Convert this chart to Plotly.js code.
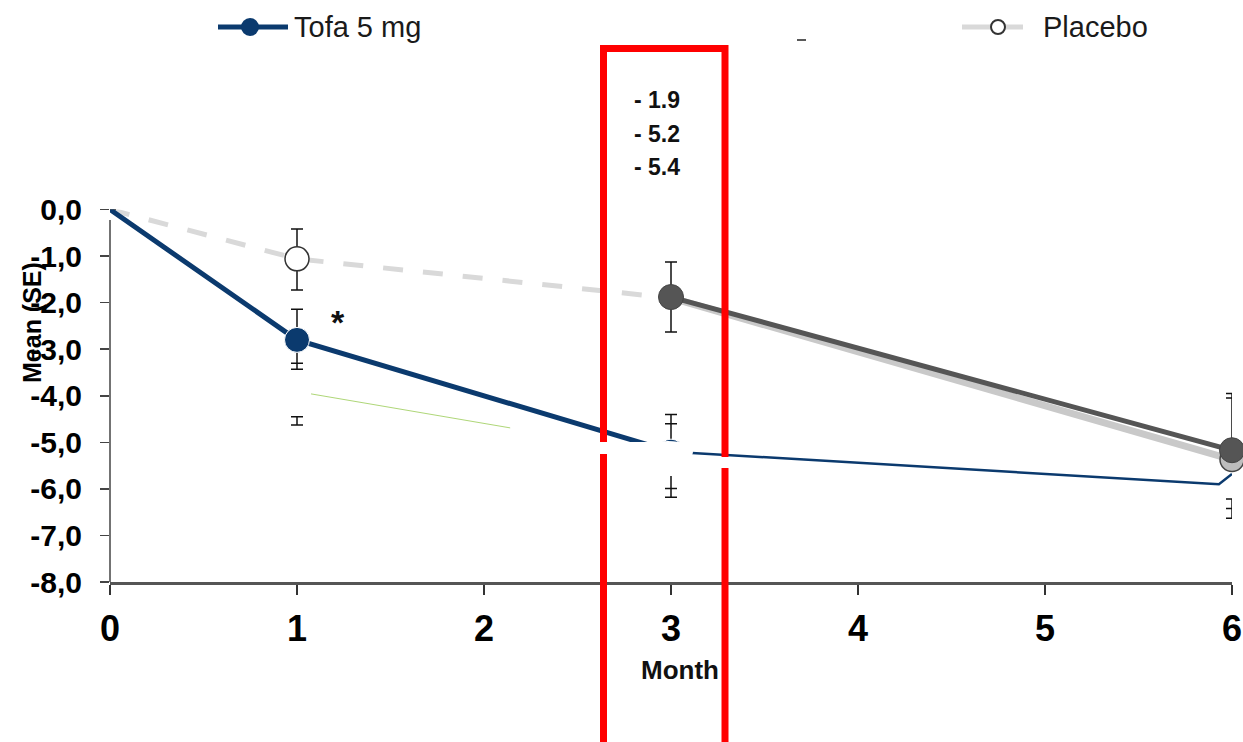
<!DOCTYPE html>
<html>
<head>
<meta charset="utf-8">
<script src="https://cdn.plot.ly/plotly-3.0.1.min.js"></script>
<style>html,body{margin:0;padding:0;background:#fff;}#chart{width:1243px;height:742px;}</style>
</head>
<body>
<div id="chart"></div>
<script>
// ---- data (months, mean change) ----
const xTickVals = [0, 1, 2, 3, 4, 5, 6];
const yTickVals = [0, -1, -2, -3, -4, -5, -6, -7, -8];
const yTickText = ['0,0', '-1,0', '-2,0', '-3,0', '-4,0', '-5,0', '-6,0', '-7,0', '-8,0'];

const placeboX = [0, 1, 3];
const placeboY = [0, -1.06, -1.9];
const placeboErrPlus = [0, 0.64, 0];
const placeboErrMinus = [0, 0.67, 0];

const tofaX = [0, 1, 3];
const tofaY = [0, -2.8, -5.2];
const tofaErrPlus = [0, 0.66, 0.8];
const tofaErrMinus = [0, 0.63, 0.98];
const tofaTailX = [3, 5.93, 6];
const tofaTailY = [-5.2, -5.9, -5.68];

const armAX = [3, 6];
const armAY = [-1.88, -5.17];
const armAErrPlus = [0.75, 1.22];
const armAErrMinus = [0.75, 0];

const armBX = [3, 6];
const armBY = [-1.9, -5.37];

const greenX = [1.075, 2.14];
const greenY = [-3.96, -4.69];

// extra error caps / stubs visible in the picture
const capX = [1, 3, 3, 6, 6];
const capY = [-3.3, -4.6, -5.99, -4.05, -6.42];
const stubX = [1, 6];
const stubY = [-4.45, -6.22];
const stubMinus = [0.18, 0.41];

const boxValues = ['- 1.9', '- 5.2', '- 5.4'];
const legendNames = ['Tofa 5 mg', 'Placebo'];

// ---- styling ----
const FONT = 'Liberation Sans, Arial, sans-serif';
const NAVY = '#0b3a6e';
const DARK = '#555555';
const LIGHT = '#c9c9c9';
const DASHGRAY = '#d9d9d9';
const W = 1243, H = 742;
const px = v => v / W;
const py = v => 1 - v / H;
const errStyle = {color: '#111', thickness: 1.5, width: 6};

const traces = [
  {x: greenX, y: greenY, mode: 'lines', line: {color: '#8dc63f', width: 1}, opacity: 0.7},
  {x: placeboX, y: placeboY, mode: 'lines+markers',
   line: {color: DASHGRAY, width: 5, dash: '20px,20px'},
   marker: {size: [0, 24, 0], opacity: 1, color: '#fff', line: {color: '#333', width: 1.5}},
   error_y: Object.assign({type: 'data', symmetric: false, array: placeboErrPlus, arrayminus: placeboErrMinus}, errStyle)},
  {x: armBX, y: armBY, mode: 'lines+markers', line: {color: LIGHT, width: 7},
   marker: {size: [0, 24], opacity: 1, color: '#bdbdbd', line: {color: '#444', width: 1.5}}},
  {x: armAX, y: armAY, mode: 'lines+markers', line: {color: DARK, width: 5},
   marker: {size: 25, opacity: 1, color: DARK, line: {color: '#444', width: 1}},
   error_y: Object.assign({type: 'data', symmetric: false, array: armAErrPlus, arrayminus: armAErrMinus}, errStyle)},
  {x: tofaTailX, y: tofaTailY, mode: 'lines', line: {color: NAVY, width: 2.5}},
  {x: tofaX, y: tofaY, mode: 'lines+markers', line: {color: NAVY, width: 5},
   marker: {size: [0, 25, 25], opacity: 1, color: NAVY},
   error_y: Object.assign({type: 'data', symmetric: false, array: tofaErrPlus, arrayminus: tofaErrMinus}, errStyle)},
  {x: capX, y: capY, mode: 'markers', marker: {size: 1, color: 'rgba(0,0,0,0)'},
   error_y: Object.assign({type: 'data', symmetric: false, array: capY.map(() => 0), arrayminus: capY.map(() => 0)}, errStyle)},
  {x: stubX, y: stubY, mode: 'markers', marker: {size: 1, color: 'rgba(0,0,0,0)'},
   error_y: Object.assign({type: 'data', symmetric: false, array: stubY.map(() => 0), arrayminus: stubMinus}, errStyle)}
].map(t => Object.assign({showlegend: false, hoverinfo: 'skip', cliponaxis: false}, t));

const shapes = [
  // y axis line
  {type: 'line', xref: 'paper', yref: 'paper', x0: px(110), x1: px(110), y0: py(220), y1: py(582), line: {color: '#444', width: 1.5}},
  // legend samples
  {type: 'line', xref: 'paper', yref: 'paper', x0: px(218), x1: px(288), y0: py(27), y1: py(27), line: {color: NAVY, width: 5}},
  {type: 'circle', xref: 'paper', yref: 'paper', x0: px(241), x1: px(259), y0: py(18), y1: py(36), fillcolor: NAVY, line: {width: 0}},
  {type: 'line', xref: 'paper', yref: 'paper', x0: px(962), x1: px(1023), y0: py(27), y1: py(27), line: {color: DASHGRAY, width: 5}},
  {type: 'circle', xref: 'paper', yref: 'paper', x0: px(991), x1: px(1005), y0: py(20), y1: py(34), fillcolor: '#fff', line: {color: '#333', width: 2}},
  {type: 'line', xref: 'paper', yref: 'paper', x0: px(797), x1: px(806), y0: py(40), y1: py(40), line: {color: '#222', width: 1.5}},
  // red highlight box
  {type: 'rect', xref: 'paper', yref: 'paper', layer: 'above', x0: px(603.5), x1: px(725), y0: py(48.5), y1: py(770), line: {color: '#ff0000', width: 7}},
  // white artefacts over month 3
  {type: 'rect', xref: 'paper', yref: 'paper', layer: 'above', x0: px(598), x1: px(655), y0: py(442), y1: py(454), fillcolor: '#fff', line: {width: 0}},
  {type: 'circle', xref: 'paper', yref: 'paper', layer: 'above', x0: px(643), x1: px(693), y0: py(441), y1: py(463), fillcolor: '#fff', line: {width: 0}},
  {type: 'rect', xref: 'paper', yref: 'paper', layer: 'above', x0: px(663), x1: px(679), y0: py(455), y1: py(476), fillcolor: '#fff', line: {width: 0}},
  {type: 'rect', xref: 'paper', yref: 'paper', layer: 'above', x0: px(719), x1: px(731), y0: py(457), y1: py(468), fillcolor: '#fff', line: {width: 0}}
];

const mk = (text, x, y, size, opts) => Object.assign({
  text: text, xref: 'paper', yref: 'paper', x: px(x), y: py(y), xanchor: 'center', yanchor: 'middle',
  showarrow: false, font: {family: FONT, size: size, color: '#111'}
}, opts || {});

const annotations = [
  mk('Mean (SE)', 32, 322, 25, {textangle: -90, font: {family: FONT, size: 25, color: '#000', weight: 'bold'}}),
  mk('*', 338, 322, 34, {font: {family: FONT, size: 34, color: '#111', weight: 'bold'}}),
  mk('Month', 680, 670, 26, {font: {family: FONT, size: 26, color: '#111', weight: 'bold'}}),
  mk(legendNames[0], 292, 27, 29, {xanchor: 'left', font: {family: FONT, size: 29, color: '#1a1a1a'}}),
  mk(legendNames[1], 1041, 27, 29, {xanchor: 'left', font: {family: FONT, size: 29, color: '#1a1a1a'}})
].concat(boxValues.map((t, i) => mk(t, 632, 100 + i * 33.5, 23,
  {xanchor: 'left', font: {family: FONT, size: 23, color: '#111', weight: 'bold'}})));

const layout = {
  width: W, height: H,
  margin: {l: 0, r: 0, t: 0, b: 0, pad: 0},
  paper_bgcolor: '#fff', plot_bgcolor: 'rgba(0,0,0,0)',
  showlegend: false,
  xaxis: {
    domain: [px(110), px(1232)], range: [0, 6], tickvals: xTickVals, ticktext: xTickVals.map(String),
    showline: true, linecolor: '#555', linewidth: 2.5, ticks: 'outside', ticklen: 10, tickwidth: 1.5, tickcolor: '#333',
    showgrid: false, zeroline: false, automargin: false, ticklabelstandoff: 3,
    tickfont: {family: FONT, size: 36, color: '#000', weight: 'bold'}
  },
  yaxis: {
    domain: [1 - 582 / H, 1 - 209.5 / H], range: [-8, 0], tickvals: yTickVals, ticktext: yTickText,
    showline: false, ticks: 'outside', ticklen: 9, tickwidth: 1.5, tickcolor: '#444',
    showgrid: false, zeroline: false, automargin: false, ticklabelstandoff: 12,
    tickfont: {family: FONT, size: 30, color: '#000', weight: 'bold'}
  },
  shapes: shapes,
  annotations: annotations
};

Plotly.newPlot('chart', traces, layout, {displayModeBar: false, staticPlot: true});
</script>
</body>
</html>
